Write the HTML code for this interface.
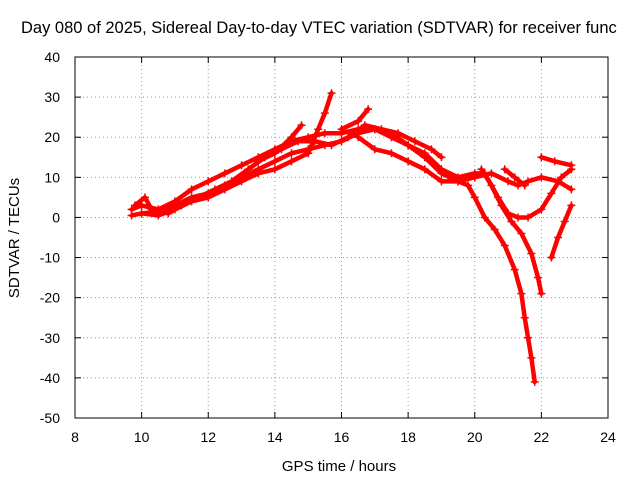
<!DOCTYPE html>
<html><head><meta charset="utf-8"><style>
body{margin:0;background:#fff;overflow:hidden;}
svg{display:block;font-family:"Liberation Sans",sans-serif;}
</style></head><body>
<svg id="chart" width="640" height="480">
<text x="21" y="33" font-size="16.5" text-anchor="start">Day 080 of 2025, Sidereal Day-to-day VTEC variation (SDTVAR) for receiver func</text>
<text x="339" y="471" font-size="15" text-anchor="middle">GPS time / hours</text>
<text x="19" y="238" font-size="15" text-anchor="middle" transform="rotate(-90 19 238)">SDTVAR / TECUs</text>
<g id="grid"></g><g id="axes"></g><g id="series"></g>
<rect x="75" y="57" width="533" height="361" fill="none" stroke="#000" stroke-width="1"/>
</svg>
<script>
const xTicks=[8,10,12,14,16,18,20,22,24];
const yTicks=[40,30,20,10,0,-10,-20,-30,-40,-50];
const s1=[[9.7,0.5],[10,1],[10.5,1.5],[11,3],[11.5,5],[12,6],[12.5,8],[13,10],[13.5,12],[14,14],[14.5,16],[15,17],[15.5,18],[16,19],[16.5,21],[17,22],[17.5,21],[18,18],[18.5,15],[19,11],[19.5,9],[20,10],[20.5,11],[21,9],[21.3,8],[21.6,9],[22,10],[22.5,9],[22.9,7]];
const s2=[[9.7,2],[10,3],[10.5,2],[11,4],[11.5,7],[12,9],[12.5,11],[13,13],[13.5,15],[14,17],[14.5,19],[15,20],[15.5,21],[16,21],[16.5,22],[17,22],[17.5,20],[18,18],[18.5,16],[19,12],[19.5,10],[20,11],[20.3,11]];
const s3=[[9.8,3],[10.1,5],[10.3,2],[10.8,1],[11.2,3],[11.7,5],[12.2,7],[12.7,9],[13.2,12],[13.7,15],[14.2,17],[14.7,19],[15.2,19],[15.7,18],[16.2,20],[16.7,23],[17.2,22],[17.7,21],[18.2,19],[18.7,17],[19,15]];
const s4=[[10,1],[10.5,0.5],[11,2],[11.5,4],[12,5],[12.5,7],[13,9],[13.5,11],[14,12],[14.5,14],[15,16],[15.3,22],[15.5,26],[15.7,31]];
const s5=[[13.5,14],[14,16],[14.5,20],[14.8,23]];
const s6=[[16,22],[16.5,24],[16.8,27]];
const s7=[[16.5,20],[17,17],[17.5,16],[18,14],[18.5,12],[19,9],[19.5,9],[19.8,8],[20,5],[20.3,0],[20.6,-3],[20.9,-7],[21.2,-13],[21.4,-19],[21.5,-25],[21.6,-30],[21.7,-35],[21.8,-41]];
const s8=[[20.2,12],[20.5,8],[20.8,3],[21.1,-1],[21.4,-4],[21.7,-9],[21.9,-15],[22,-19]];
const s9=[[20.3,11],[20.7,5],[21,1],[21.3,0],[21.6,0],[22,2],[22.3,6],[22.6,10],[22.9,12]];
const s10=[[22,15],[22.4,14],[22.9,13]];
const s11=[[22.3,-10],[22.5,-5],[22.7,-1],[22.9,3]];
const s12=[[20.9,12],[21.2,10],[21.5,8]];
const allSeries=[s1,s2,s3,s4,s5,s6,s7,s8,s9,s10,s11,s12];
const NS="http://www.w3.org/2000/svg";
const X=h=>75+(h-8)*(533/16);
const Y=v=>57+(40-v)*(361/90);
const grid=document.getElementById('grid'),axes=document.getElementById('axes'),ser=document.getElementById('series');
function mk(tag,attrs,parent){const e=document.createElementNS(NS,tag);for(const k in attrs)e.setAttribute(k,attrs[k]);parent.appendChild(e);return e;}
xTicks.forEach(t=>{
 const x=X(t);
 if(t>8&&t<24){const l=mk('line',{x1:x,x2:x,y1:57,y2:418,stroke:'#999','stroke-dasharray':'1,3'},grid);
 
 }
 const tx=mk('text',{x:x,y:442,'font-size':14,'text-anchor':'middle'},axes);tx.textContent=t;
 
 
 mk('line',{x1:x,x2:x,y1:418,y2:412,stroke:'#000'},axes);mk('line',{x1:x,x2:x,y1:57,y2:63,stroke:'#000'},axes);
});
yTicks.forEach(t=>{
 const y=Y(t);
 if(t<40&&t>-50){const l=mk('line',{x1:75,x2:608,y1:y,y2:y,stroke:'#999','stroke-dasharray':'1,3'},grid);
 
 }
 const tx=mk('text',{x:60,y:y+5,'font-size':14,'text-anchor':'end'},axes);tx.textContent=t;
 
 
 mk('line',{x1:75,x2:81,y1:y,y2:y,stroke:'#000'},axes);mk('line',{x1:608,x2:602,y1:y,y2:y,stroke:'#000'},axes);
});
allSeries.forEach((s,i)=>{
 const p=mk('polyline',{points:s.map(d=>X(d[0])+','+Y(d[1])).join(' '),fill:'none',stroke:'#f00','stroke-width':4.5,'stroke-linejoin':'round','stroke-linecap':'round'},ser);
 
 
 s.forEach(d=>{const x=X(d[0]),y=Y(d[1]);
  const m=mk('path',{d:`M${x-4},${y}H${x+4}M${x},${y-4}V${y+4}`,stroke:'#f00','stroke-width':1.5},ser);
  
  
 });
});
</script>
</body></html>
